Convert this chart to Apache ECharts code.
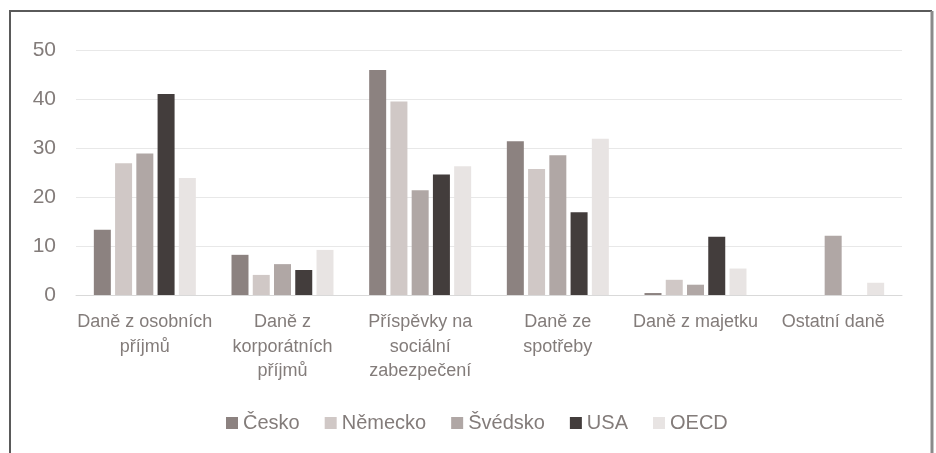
<!DOCTYPE html>
<html>
<head>
<meta charset="utf-8">
<script src="https://cdn.jsdelivr.net/npm/echarts@6/dist/echarts.min.js"></script>
<style>
  html, body { margin: 0; padding: 0; background: #fff; }
  #chart { width: 936px; height: 453px; }
</style>
</head>
<body>
<div id="chart"></div>
<script>
const categories = [
    'Daně z osobních\npříjmů',
    'Daně z\nkorporátních\npříjmů',
    'Příspěvky na\nsociální\nzabezpečení',
    'Daně ze\nspotřeby',
    'Daně z majetku',
    'Ostatní daně'
];
const cesko    = [13.3, 8.2, 45.9, 31.4, 0.4, null];
const nemecko  = [26.9, 4.1, 39.5, 25.7, 3.1, null];
const svedsko  = [28.9, 6.3, 21.4, 28.5, 2.1, 12.1];
const usa      = [41.0, 5.1, 24.6, 16.9, 11.9, null];
const oecd     = [23.9, 9.2, 26.3, 31.9, 5.4, 2.5];

const seriesNames = ['Česko', 'Německo', 'Švédsko', 'USA', 'OECD'];
const seriesData = [cesko, nemecko, svedsko, usa, oecd];
const colors = ['#8c8280', '#d0c8c6', '#b0a7a5', '#433d3c', '#e8e4e3'];

const font = '"Liberation Sans", sans-serif';
const textGray = '#837c7a';

const option = {
    backgroundColor: '#fff',
    animation: false,
    color: colors,
    grid: { left: 76, right: 34, top: 50, bottom: 158 },
    legend: {
        data: seriesNames,
        left: 221,
        top: 408,
        itemWidth: 12,
        itemHeight: 12,
        itemGap: 25,
        icon: 'rect',
        textStyle: { color: textGray, fontSize: 20, fontFamily: font }
    },
    xAxis: {
        type: 'category',
        data: categories,
        axisLine: { lineStyle: { color: '#d9d9d9', width: 1 } },
        axisTick: { show: false },
        axisLabel: {
            interval: 0,
            color: textGray,
            fontSize: 18,
            fontFamily: font,
            lineHeight: 24.5,
            margin: 15
        }
    },
    yAxis: {
        type: 'value',
        min: 0,
        max: 50,
        interval: 10,
        axisLine: { show: false },
        axisTick: { show: false },
        splitLine: { lineStyle: { color: '#e8e8e8', width: 1 } },
        axisLabel: { color: textGray, fontSize: 21, fontFamily: font, margin: 20 }
    },
    series: seriesNames.map(function (name, i) {
        return {
            name: name,
            type: 'bar',
            data: seriesData[i],
            barWidth: 17,
            barGap: '25%',
            itemStyle: { color: colors[i] }
        };
    }),
    graphic: [
        {
            type: 'polyline',
            shape: { points: [[10, 453], [10, 11], [932, 11]] },
            style: { stroke: '#5a5a5a', lineWidth: 2, fill: null }
        },
        {
            type: 'line',
            shape: { x1: 932, y1: 11, x2: 932, y2: 453 },
            style: { stroke: '#8a8a8a', lineWidth: 3 }
        }
    ]
};

const chart = echarts.init(document.getElementById('chart'));
chart.setOption(option);
</script>
</body>
</html>
